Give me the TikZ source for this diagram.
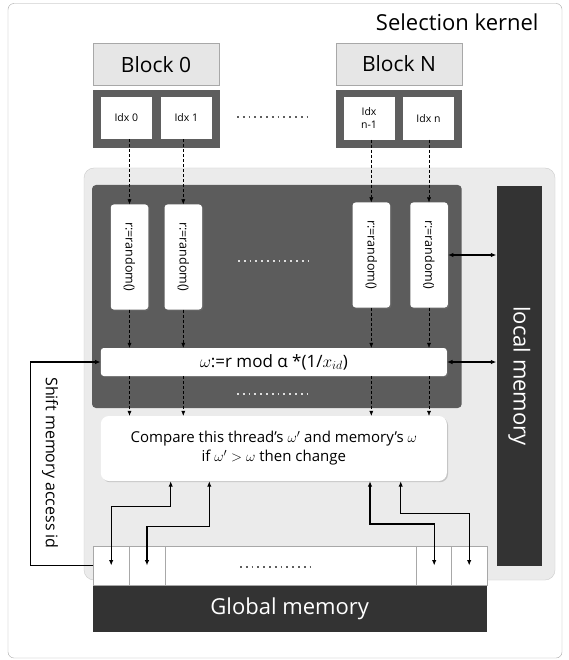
\documentclass[tikz,border=0pt]{standalone}
\usepackage{fontspec}
\setmainfont{Open Sans}
\usepackage{graphicx}
\usetikzlibrary{arrows.meta,shadows}
\definecolor{framegray}{HTML}{A8A8A8}
\definecolor{kernelgray}{HTML}{EBEBEB}
\definecolor{blockgray}{HTML}{E6E6E6}
\definecolor{idxgray}{HTML}{5E5E5E}
\definecolor{panelgray}{HTML}{5C5C5C}
\definecolor{memgray}{HTML}{333333}
\tikzset{
  blockbox/.style={draw=framegray,fill=blockgray,minimum width=126pt,minimum height=42pt,font=\fontsize{21}{23}\selectfont},
  idxbox/.style={fill=white,minimum width=51pt,minimum height=42.5pt,inner sep=0pt,align=center,font=\fontsize{10.5}{13}\selectfont},
  wbox/.style={fill=white,rounded corners=3pt,inner sep=0pt,drop shadow={shadow xshift=1.2pt,shadow yshift=-1.2pt,opacity=.35}},
  rndbox/.style={wbox,minimum width=37.5pt,minimum height=105pt,font=\fontsize{12.5}{14}\selectfont},
  membox/.style={fill=memgray,text=white,inner sep=0pt},
  cellbox/.style={draw=framegray,fill=white,minimum width=35.5pt,minimum height=39pt,inner sep=0pt},
  flow/.style={densely dashed,-{Latex[length=5pt,width=4pt]}},
  link/.style={line width=1.3pt,{Latex[length=5.5pt,width=4.5pt]}-{Latex[length=5.5pt,width=4.5pt]}},
  dotrow/.style={line width=1.7pt,dash pattern=on 1.7pt off 4.1pt},
}
\begin{document}
\begin{tikzpicture}[x=1pt,y=-1pt]
\useasboundingbox (0,0) rectangle (569,660);
\draw[draw=framegray,fill=white,rounded corners=6pt] (8,3.5) rectangle (562,658);
\node[anchor=east,font=\fontsize{22}{26}\selectfont] (title) at (542,22) {Selection kernel};

\node[blockbox] (blk0) at (156,64.5) {Block 0};
\node[blockbox] (blkN) at (399,64) {Block N};
\fill[idxgray] (92.7,90) rectangle (220,148.3);
\fill[idxgray] (336,90) rectangle (461.7,148.3);
\node[idxbox] (idx0) at (126.3,118) {Idx 0};
\node[idxbox] (idx1) at (186.3,118) {Idx 1};
\node[idxbox] (idxm) at (369,118.3) {Idx\\n-1};
\node[idxbox] (idxn) at (428.5,118.3) {Idx n};
\draw[dotrow,idxgray] (237,117) -- (312,117);

\draw[fill=kernelgray,draw=gray!40,rounded corners=10pt] (84,168) rectangle (555,580);
\fill[panelgray,rounded corners=4pt] (92,185) rectangle (461.7,408);
\node[rndbox] (rnd0) at (129.5,257) {\rotatebox{-90}{r:=random()}};
\node[rndbox] (rnd1) at (183.3,257) {\rotatebox{-90}{r:=random()}};
\node[rndbox] (rndm) at (371.3,255) {\rotatebox{-90}{r:=random()}};
\node[rndbox] (rndn) at (429,255) {\rotatebox{-90}{r:=random()}};
\draw[dotrow,gray!25] (238,260.7) -- (313,260.7);
\node[wbox,minimum width=346pt,minimum height=28pt,font=\fontsize{17}{20}\selectfont] (omega) at (273.8,362) {$\omega$:=r mod α *(1/$x_{id}$)};
\draw[dotrow,gray!25] (237,394) -- (312,394);
\node[wbox,rounded corners=8pt,minimum width=346pt,minimum height=65pt,align=center,font=\fontsize{15}{19}\selectfont] (cmp) at (273.8,448.5) {Compare this thread's $\omega'$ and memory's $\omega$\\if $\omega'>\omega$ then change};

\node[membox,minimum width=45.5pt,minimum height=380pt,font=\fontsize{22}{24}\selectfont] (locmem) at (519.3,376) {\rotatebox{-90}{local memory}};

\draw[draw=framegray,fill=white] (165,546) rectangle (416.7,585);
\node[cellbox] (c0) at (111.2,565.5) {};
\node[cellbox] (c1) at (147,565.5) {};
\node[cellbox] (cm) at (434.2,565.5) {};
\node[cellbox] (cn) at (469.2,565.5) {};
\draw[dotrow,idxgray] (240,566.7) -- (315,566.7);
\node[membox,minimum width=394pt,minimum height=45.5pt,font=\fontsize{22}{24}\selectfont] (glob) at (289.7,608.8) {Global memory};

\node[font=\fontsize{16}{18}\selectfont] (shift) at (50,463) {\rotatebox{-90}{Shift memory access id}};

\foreach \a/\b in {idx0/rnd0,idx1/rnd1,idxm/rndm,idxn/rndn}{
  \draw[flow] (\a.south -| \b.north) -- (\b.north);
  \draw[flow] (\b.south) -- (\b.south |- omega.north);
  \draw[flow] (\b.south |- omega.south) -- (\b.south |- cmp.north);
}
\draw[link] (rndn.east) -- (rndn.east -| locmem.west);
\draw[link] (omega.east) -- (omega.east -| locmem.west);

\coordinate (up0) at (170.7,506.7);
\coordinate (up1) at (209.3,526.7);
\coordinate (upm) at (370,524);
\coordinate (upn) at (400.7,513.3);
\draw[link] (cmp.south -| up0) -- (up0) -| (c0.center);
\draw[link] (cmp.south -| up1) -- (up1) -| (c1.center);
\draw[link] (cmp.south -| upm) -- (upm) -| (cm.center);
\draw[link] (cmp.south -| upn) -- (upn) -| (cn.center);

\coordinate (turn) at (30.7,565.5);
\draw[line width=1.3pt,-{Latex[length=5.5pt,width=4.5pt]}] (c0.west) -- (turn) |- (omega.west);
\end{tikzpicture}
\end{document}
